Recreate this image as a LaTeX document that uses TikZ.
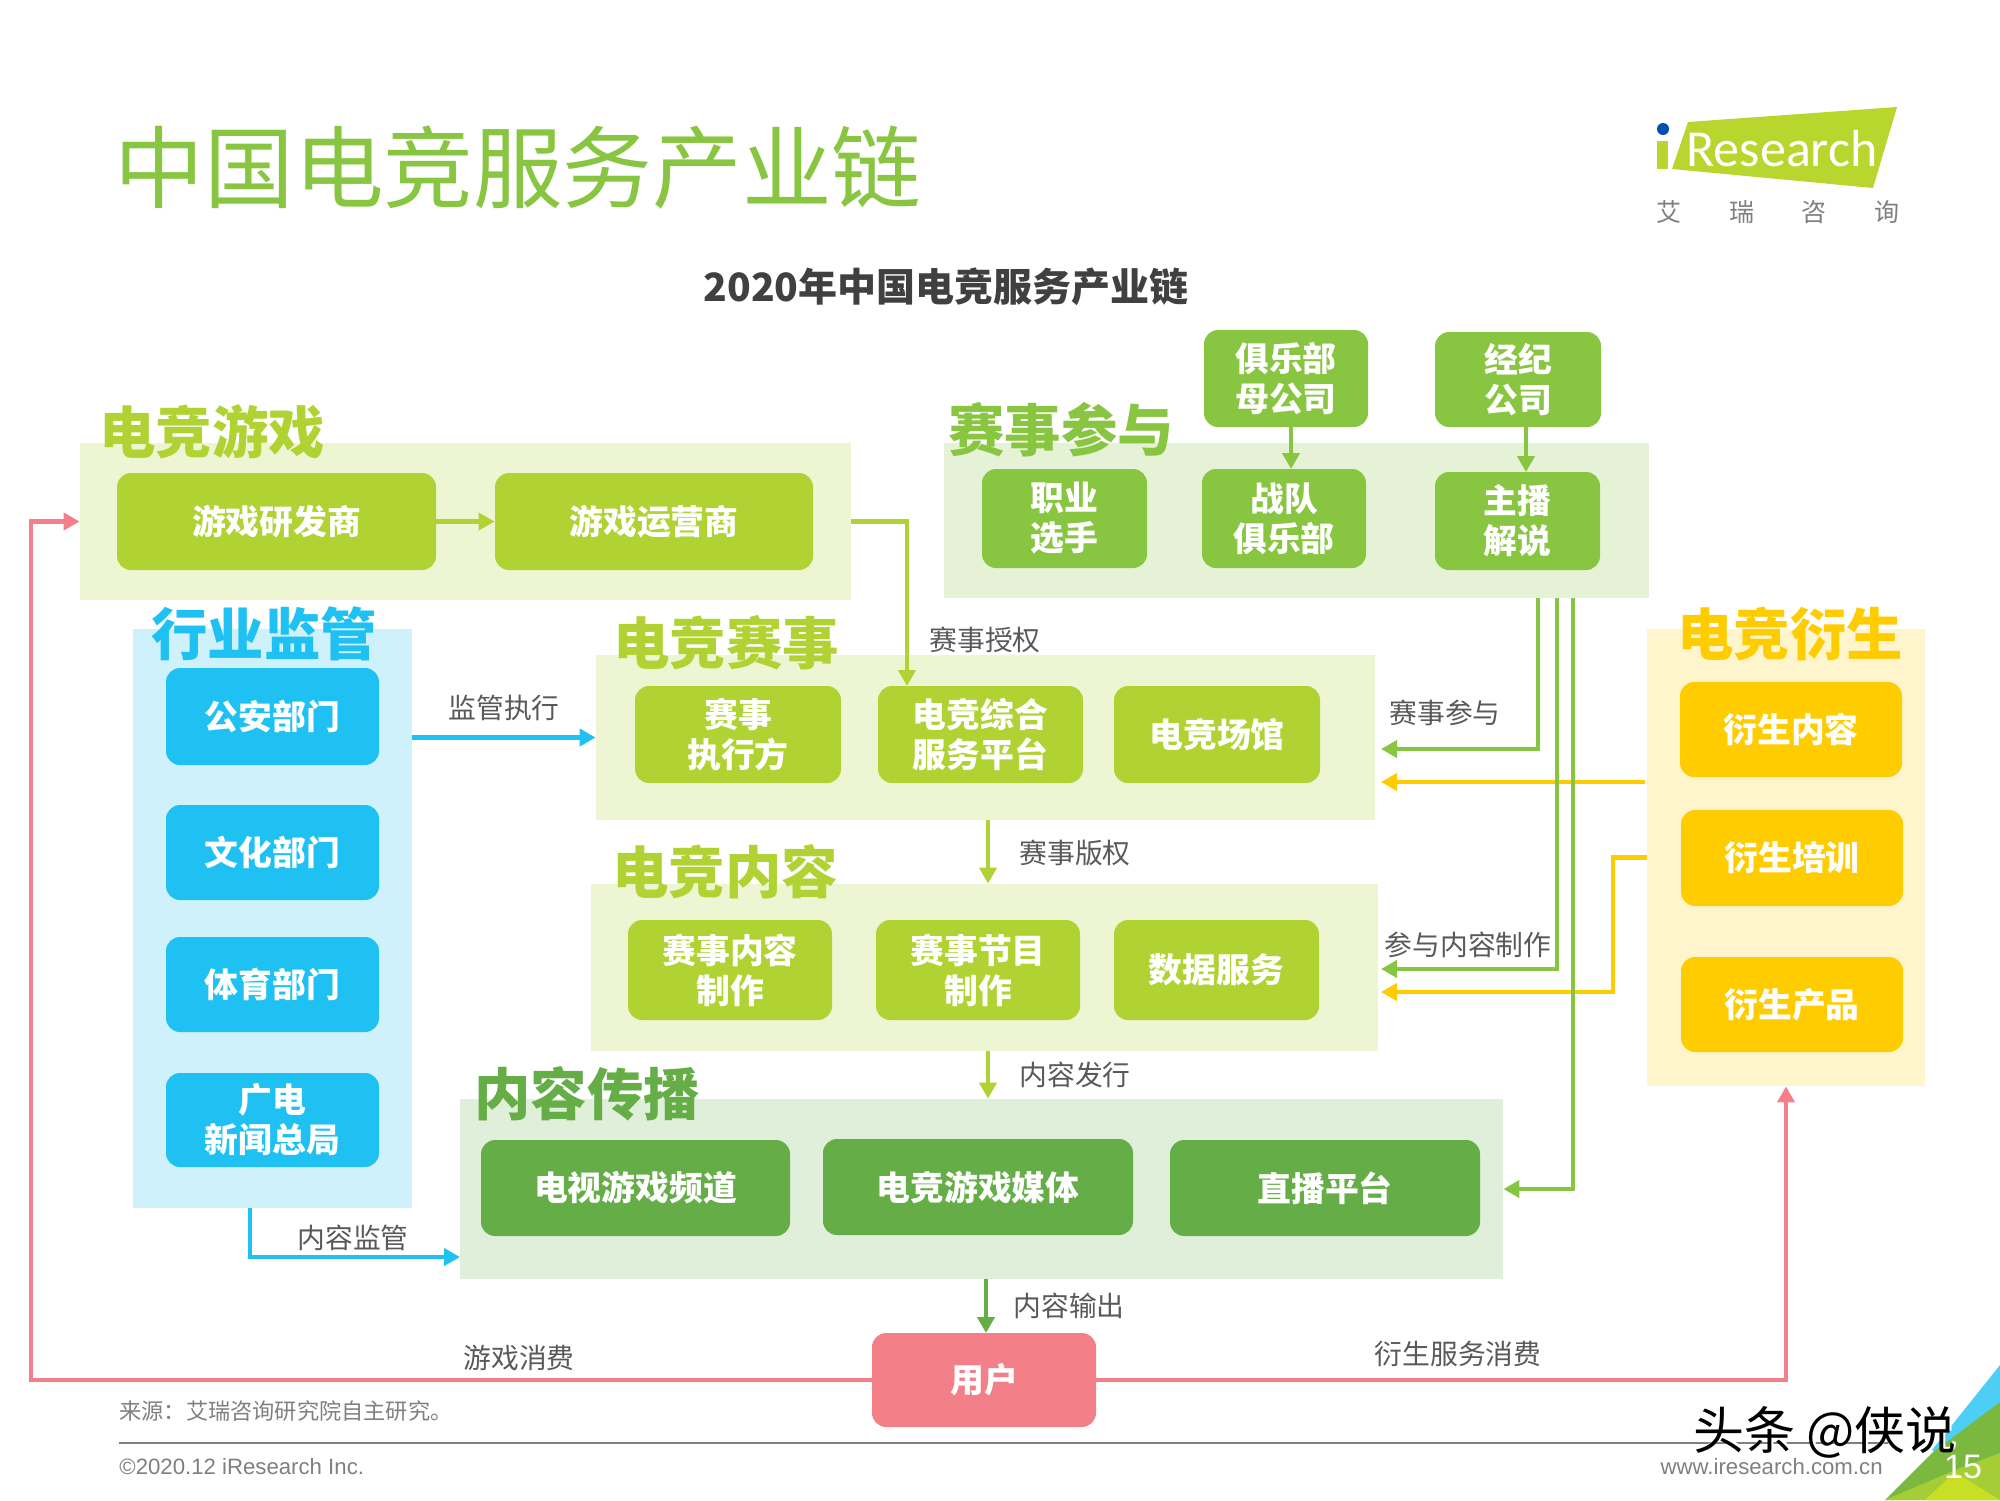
\documentclass[tikz,border=0pt]{standalone}
\usepackage{fontspec}
\setmainfont{Noto Sans CJK SC}
\newfontfamily\arialfont{Liberation Sans}
\newfontfamily\logofont{Carlito}
\usetikzlibrary{arrows.meta}

\definecolor{limegreen}{HTML}{B0D232}
\definecolor{midgreen}{HTML}{88C540}
\definecolor{darkgreen}{HTML}{65AD46}
\definecolor{skyblue}{HTML}{1FC1F2}
\definecolor{ambery}{HTML}{FFCC00}
\definecolor{rosered}{HTML}{F38089}
\definecolor{labelgray}{HTML}{595959}
\definecolor{footgray}{HTML}{7F7F7F}

\tikzset{
    size/.style 2 args={minimum width=#1*0.5pt, minimum height=#2*0.5pt, inner sep=0pt},
    panel/.style={fill=#1, draw=none},
    card/.style={fill=#1, rounded corners=7pt, text=white, align=center,
        font=\bfseries\fontsize{16.9}{20}\selectfont},
    heading/.style={text=#1, inner sep=0pt, font=\bfseries\fontsize{28.2}{30}\selectfont},
    flowlabel/.style={text=labelgray, inner sep=0pt, font=\fontsize{13.9}{16}\selectfont},
    flow/.style={draw=#1, line width=2.3pt, -{Triangle[length=8pt,width=8.5pt]}},
    footnote/.style={text=footgray, inner sep=0pt, font=\fontsize{11.1}{14}\selectfont}
}

\begin{document}
\begin{tikzpicture}[x=0.5pt, y=-0.5pt]

    \useasboundingbox (0,0) rectangle (2000,1500);

    % 1. Eckpunkte der Verbinder
    \coordinate (licenseIn) at (907,686);
    \coordinate (parentOut) at (1291,427);
    \coordinate (teamIn) at (1291,469);
    \coordinate (agencyOut) at (1526,427);
    \coordinate (casterIn) at (1526,472);
    \coordinate (joinOut) at (1538,598);
    \coordinate (joinIn) at (1381,749);
    \coordinate (makeOut) at (1557,598);
    \coordinate (makeIn) at (1381,969);
    \coordinate (spreadOut) at (1573,598);
    \coordinate (goodsOut) at (1645,782);
    \coordinate (goodsIn) at (1381,782);
    \coordinate (trainBend) at (1613,900);
    \coordinate (trainIn) at (1381,992);
    \coordinate (watchOut) at (250,1208);
    \coordinate (watchIn) at (460,1257);
    \coordinate (leftBend) at (31,1000);
    \coordinate (rightsOut) at (988,820);
    \coordinate (issueOut) at (988,1051);
    \coordinate (outputOut) at (986,1279);
    \coordinate (outputIn) at (986,1333);

    % 2. Ecke unten rechts
    \fill[skyblue!80!white] (2000,1365) -- (1932,1450) -- (2000,1500) -- cycle;
    \fill[darkgreen!70!limegreen] (2000,1402) -- (1932,1453) -- (1885,1500) -- (2000,1500) -- cycle;
    \fill[limegreen!85!darkgreen] (1885,1500) -- (1955,1470) -- (2000,1453) -- (2000,1500) -- cycle;
    \fill[limegreen!70!yellow] (1925,1500) -- (1955,1472) -- (2000,1500) -- cycle;

    % 3. Titel und Logo
    \node[inner sep=0pt, text=midgreen, font=\fontsize{44.8}{50}\selectfont] (title) at (518,168) {中国电竞服务产业链};
    \node[inner sep=0pt, text=black!75, font=\bfseries\fontsize{19.5}{24}\selectfont] (subtitle) at (946,287) {2020年中国电竞服务产业链};

    \fill[limegreen!90!yellow] (1688,122) -- (1897,107) -- (1873,188) -- (1672,169) -- cycle;
    \fill[limegreen!90!yellow] (1657,141) rectangle (1668,169);
    \fill[blue!55!cyan!70!black] (1663,129) circle (6);
    \node[inner sep=0pt, text=white, font=\logofont\fontsize{26}{28}\selectfont] (logotext) at (1782,149) {Research};
    \node[inner sep=0pt, text=footgray, font=\fontsize{12.5}{14}\selectfont] (logoA) at (1669,212) {艾};
    \node[inner sep=0pt, text=footgray, font=\fontsize{12.5}{14}\selectfont] (logoB) at (1742,212) {瑞};
    \node[inner sep=0pt, text=footgray, font=\fontsize{12.5}{14}\selectfont] (logoC) at (1814,212) {咨};
    \node[inner sep=0pt, text=footgray, font=\fontsize{12.5}{14}\selectfont] (logoD) at (1887,212) {询};

    % 4. Flaechen der Gruppen
    \node[panel=limegreen!22!white, size={771}{157}] (gamePanel) at (465.5,521.5) {};
    \node[panel=midgreen!22!white, size={705}{155}] (teamPanel) at (1296.5,520.5) {};
    \node[panel=skyblue!22!white, size={279}{579}] (rulePanel) at (272.5,918.5) {};
    \node[panel=limegreen!22!white, size={779}{165}] (eventPanel) at (985.5,737.5) {};
    \node[panel=limegreen!22!white, size={787}{167}] (contentPanel) at (984.5,967.5) {};
    \node[panel=darkgreen!20!white, size={1043}{180}] (mediaPanel) at (981.5,1189) {};
    \node[panel=ambery!20!white, size={278}{457}] (derivPanel) at (1786,857.5) {};

    % 5. Ueberschriften der Gruppen
    \node[heading=limegreen] (gameHead) at (212,432) {电竞游戏};
    \node[heading=midgreen] (teamHead) at (1061,430) {赛事参与};
    \node[heading=skyblue] (ruleHead) at (264,634) {行业监管};
    \node[heading=limegreen] (eventHead) at (726,643) {电竞赛事};
    \node[heading=limegreen] (contentHead) at (725,872) {电竞内容};
    \node[heading=darkgreen] (mediaHead) at (587,1094) {内容传播};
    \node[heading=ambery] (derivHead) at (1790,634) {电竞衍生};

    % 6. Kaesten
    \node[card=limegreen, size={319}{97}] (developer) at (276.5,521.5) {游戏研发商};
    \node[card=limegreen, size={318}{97}] (operator) at (654,521.5) {游戏运营商};
    \node[card=midgreen, size={165}{99}] (players) at (1064.5,518.5) {职业\\选手};
    \node[card=midgreen, size={164}{99}] (clubs) at (1284,518.5) {战队\\俱乐部};
    \node[card=midgreen, size={165}{98}] (casters) at (1517.5,521) {主播\\解说};
    \node[card=midgreen, size={164}{97}] (parent) at (1286,378.5) {俱乐部\\母公司};
    \node[card=midgreen, size={166}{95}] (agency) at (1518,379.5) {经纪\\公司};

    \node[card=skyblue, size={213}{97}] (police) at (272.5,716.5) {公安部门};
    \node[card=skyblue, size={213}{95}] (culture) at (272.5,852.5) {文化部门};
    \node[card=skyblue, size={213}{95}] (sports) at (272.5,984.5) {体育部门};
    \node[card=skyblue, size={213}{94}] (radio) at (272.5,1120) {广电\\新闻总局};

    \node[card=limegreen, size={206}{97}] (organizer) at (738,734.5) {赛事\\执行方};
    \node[card=limegreen, size={205}{97}] (platform) at (980.5,734.5) {电竞综合\\服务平台};
    \node[card=limegreen, size={206}{97}] (venue) at (1217,734.5) {电竞场馆};

    \node[card=limegreen, size={204}{100}] (contentMake) at (730,970) {赛事内容\\制作};
    \node[card=limegreen, size={204}{100}] (showMake) at (978,970) {赛事节目\\制作};
    \node[card=limegreen, size={205}{100}] (dataServ) at (1216.5,970) {数据服务};

    \node[card=darkgreen, size={309}{96}] (tvChannel) at (635.5,1188) {电视游戏频道};
    \node[card=darkgreen, size={310}{96}] (gameMedia) at (978,1187) {电竞游戏媒体};
    \node[card=darkgreen, size={310}{96}] (livePlat) at (1325,1188) {直播平台};

    \node[card=ambery, size={222}{95}] (derivContent) at (1791,729.5) {衍生内容};
    \node[card=ambery, size={222}{96}] (derivTrain) at (1792,858) {衍生培训};
    \node[card=ambery, size={222}{95}] (derivGoods) at (1792,1004.5) {衍生产品};

    \node[card=rosered, size={224}{94}] (user) at (984,1380) {用户};

    % 7. Verbinder
    \draw[flow=limegreen] (developer) -- (operator);
    \draw[flow=limegreen] (gamePanel.east) -| (licenseIn);
    \draw[flow=midgreen] (parentOut) -- (teamIn);
    \draw[flow=midgreen] (agencyOut) -- (casterIn);
    \draw[flow=skyblue] (rulePanel.east |- eventPanel.west) -- (eventPanel.west);
    \draw[flow=skyblue] (watchOut) |- (watchIn);
    \draw[flow=limegreen] (rightsOut) -- (rightsOut |- contentPanel.north);
    \draw[flow=limegreen] (issueOut) -- (issueOut |- mediaPanel.north);
    \draw[flow=darkgreen] (outputOut) -- (outputIn);
    \draw[flow=ambery] (goodsOut) -- (goodsIn);
    \draw[flow=ambery] (derivPanel.west) -| (trainBend) |- (trainIn);
    \draw[flow=midgreen] (joinOut) |- (joinIn);
    \draw[flow=midgreen] (makeOut) |- (makeIn);
    \draw[flow=midgreen] (spreadOut) |- (mediaPanel.east);
    \draw[flow=rosered] (user.west) -| (leftBend) |- (gamePanel.west);
    \draw[flow=rosered] (user.east) -| (derivPanel.south);

    % 8. Beschriftung der Verbinder
    \node[flowlabel] (licenseText) at (985,640) {赛事授权};
    \node[flowlabel] (superText) at (504,708) {监管执行};
    \node[flowlabel] (joinText) at (1445,713) {赛事参与};
    \node[flowlabel] (rightsText) at (1075,853) {赛事版权};
    \node[flowlabel] (makeText) at (1468,945) {参与内容制作};
    \node[flowlabel] (issueText) at (1075,1075) {内容发行};
    \node[flowlabel] (watchText) at (353,1238) {内容监管};
    \node[flowlabel] (outputText) at (1069,1306) {内容输出};
    \node[flowlabel] (gameText) at (519,1358) {游戏消费};
    \node[flowlabel] (derivText) at (1458,1354) {衍生服务消费};

    % 9. Fusszeile
    \node[footnote, anchor=west] (source) at (119,1411) {来源：艾瑞咨询研究院自主研究。};
    \draw[draw=footgray, line width=1pt] (119,1443) -- (1888,1443);
    \node[footnote, anchor=west, font=\arialfont\fontsize{11.1}{14}\selectfont] (copyright) at (119,1467) {©2020.12 iResearch Inc.};
    \node[footnote, anchor=east, font=\arialfont\fontsize{11.1}{14}\selectfont] (website) at (1883,1467) {www.iresearch.com.cn};
    \node[inner sep=0pt, text=white, font=\arialfont\fontsize{17}{18}\selectfont] (pageNum) at (1963,1467) {15};

    % Wasserzeichen mit weissem Versatz
    \node[inner sep=0pt, text=white, font=\fontsize{25.5}{28}\selectfont] (markShadow) at (1827,1430) {头条 @侠说};
    \node[inner sep=0pt, text=black, font=\fontsize{25.5}{28}\selectfont] (mark) at (1825,1432) {头条 @侠说};

\end{tikzpicture}
\end{document}
